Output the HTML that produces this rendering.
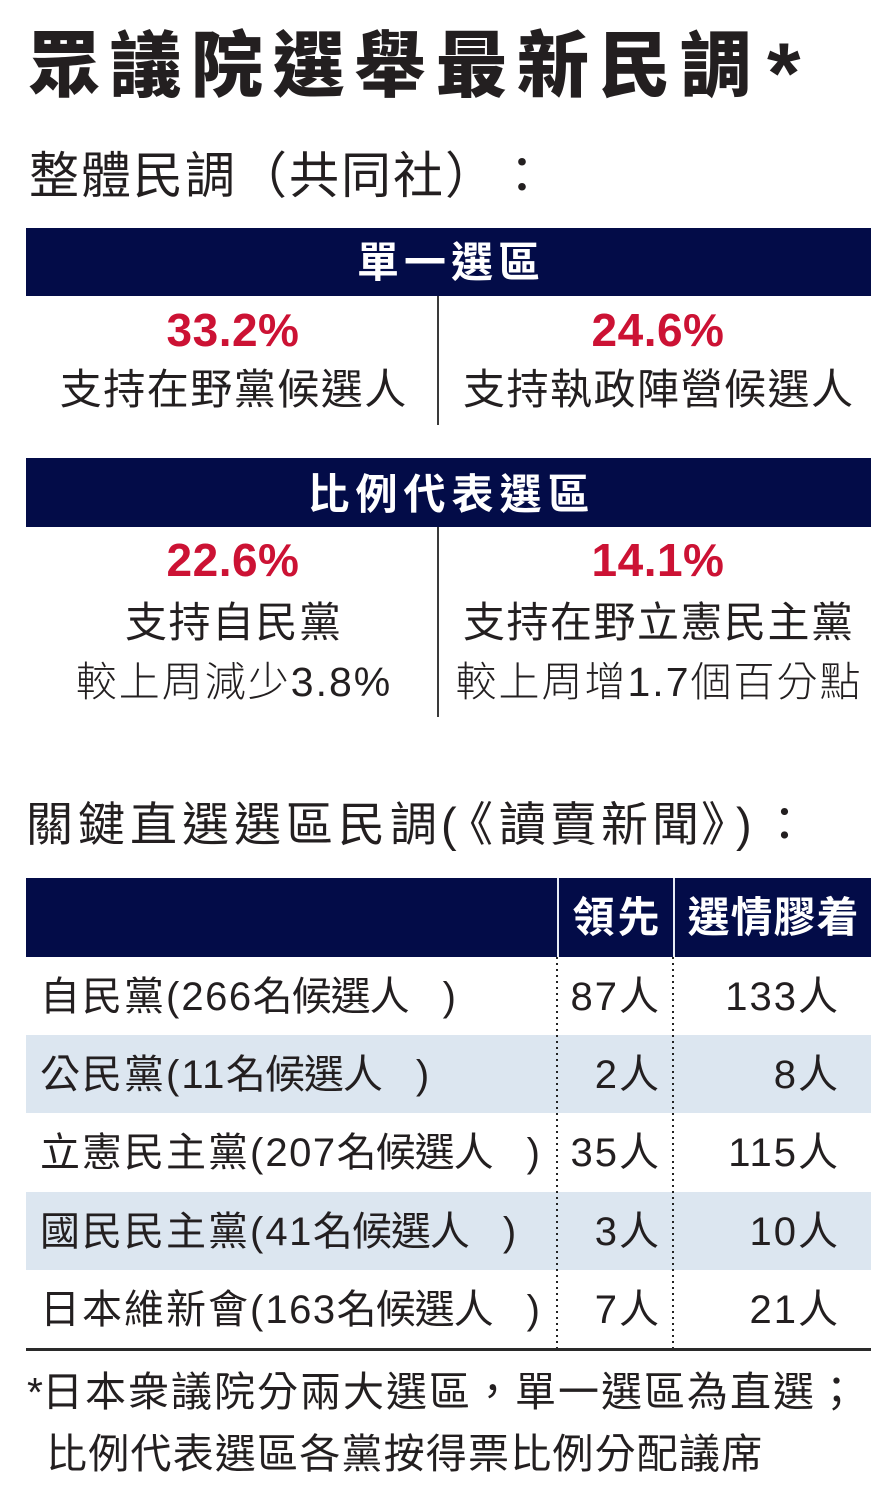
<!DOCTYPE html>
<html><head><meta charset="utf-8"><style>
*{margin:0;padding:0;box-sizing:border-box}
html,body{width:889px;height:1500px;background:#fff;overflow:hidden}
body{position:relative;font-family:"Liberation Sans","Noto Sans CJK TC",sans-serif;color:#231f20;text-spacing-trim:space-all}
.a{position:absolute;line-height:1;white-space:nowrap;text-spacing-trim:space-all}
.bar{position:absolute;left:26px;width:845px;background:#030c48}
.w{color:#fff;font-weight:700;text-align:center;width:845px;left:26px;font-size:42px}
.pct{color:#cc1234;font-weight:700;font-size:46px;letter-spacing:0.5px}
.L{left:26px;width:414px;text-align:center}
.R{left:445px;width:426px;text-align:center}
.sup{font-size:42px;letter-spacing:1.5px;padding-left:1.5px}
.sub{font-size:41px;font-weight:300;letter-spacing:2px;padding-left:2px}
.vl{position:absolute;left:437px;width:2px;background:#3a3a3a}
.row{position:absolute;left:26px;width:845px}
.blue{background:#dce6f0}
.lab{font-size:40px;left:40px;letter-spacing:2px}
.lab .d{letter-spacing:1.5px}
.lab .t{letter-spacing:-1px}
.lab .p{margin-left:34px;letter-spacing:0}
.n{font-size:40px;text-align:right}
.n .d{letter-spacing:2px}
.c2{left:560px;width:99px}
.c3{left:676px;width:162px}
.dot{position:absolute;width:2px;top:957px;height:391px;background:repeating-linear-gradient(to bottom,#222 0 2px,transparent 2px 6px)}
.hd{position:absolute;top:878px;width:2px;height:79px;background:#e8ecf4}
.h2{font-size:47px;top:801px}
</style></head><body>

<div class="a" style="left:28px;top:31px;font-size:72px;font-weight:900;letter-spacing:9.5px">眾議院選舉最新民調</div>
<div class="a" style="left:767px;top:31px;font-size:86px;font-weight:700">*</div>

<div class="a" style="left:29px;top:151px;font-size:50px;letter-spacing:2px">整體民調（共同社）：</div>

<div class="bar" style="top:228px;height:68px"></div>
<div class="a w" style="top:242px;letter-spacing:5px;padding-left:5px">單一選區</div>

<div class="vl" style="top:296px;height:129px"></div>
<div class="a pct L" style="top:307px">33.2%</div>
<div class="a pct R" style="top:307px">24.6%</div>
<div class="a sup L" style="top:369px">支持在野黨候選人</div>
<div class="a sup R" style="top:369px">支持執政陣營候選人</div>

<div class="bar" style="top:458px;height:69px"></div>
<div class="a w" style="top:474px;letter-spacing:6px;padding-left:6px">比例代表選區</div>

<div class="vl" style="top:527px;height:190px"></div>
<div class="a pct L" style="top:537px">22.6%</div>
<div class="a pct R" style="top:537px">14.1%</div>
<div class="a sup L" style="top:602px">支持自民黨</div>
<div class="a sup R" style="top:602px">支持在野立憲民主黨</div>
<div class="a sub L" style="top:662px">較上周減少3.8%</div>
<div class="a sub R" style="top:662px">較上周增1.7個百分點</div>

<div class="a h2" style="left:26px;letter-spacing:5px">關鍵直選選區民調</div>
<div class="a h2" style="left:441px">(</div>
<div class="a h2" style="left:446px">《</div>
<div class="a h2" style="left:499px;letter-spacing:4px">讀賣新聞</div>
<div class="a h2" style="left:701px">》</div>
<div class="a h2" style="left:736px">)</div>
<div class="a h2" style="left:761px">：</div>

<!-- table -->
<div class="bar" style="top:878px;height:79px"></div>
<div class="hd" style="left:557px"></div>
<div class="hd" style="left:673px"></div>
<div class="a" style="left:559px;width:114px;text-align:center;top:897px;font-size:42px;font-weight:700;color:#fff;letter-spacing:3px;padding-left:3px">領先</div>
<div class="a" style="left:675px;width:196px;text-align:center;top:897px;font-size:42px;font-weight:700;color:#fff;letter-spacing:1px;padding-left:1px">選情膠着</div>

<div class="row blue" style="top:1035px;height:78px"></div>
<div class="row blue" style="top:1192px;height:78px"></div>

<div class="dot" style="left:556px"></div>
<div class="dot" style="left:672px"></div>

<div class="a lab" style="top:977px">自民黨(<span class="d">266</span><span class="t">名候選人</span><span class="p">)</span></div>
<div class="a n c2" style="top:977px"><span class="d">87</span>人</div>
<div class="a n c3" style="top:977px"><span class="d">133</span>人</div>

<div class="a lab" style="top:1055px">公民黨(<span class="d">11</span><span class="t">名候選人</span><span class="p">)</span></div>
<div class="a n c2" style="top:1055px"><span class="d">2</span>人</div>
<div class="a n c3" style="top:1055px"><span class="d">8</span>人</div>

<div class="a lab" style="top:1133px">立憲民主黨(<span class="d">207</span><span class="t">名候選人</span><span class="p">)</span></div>
<div class="a n c2" style="top:1133px"><span class="d">35</span>人</div>
<div class="a n c3" style="top:1133px"><span class="d">115</span>人</div>

<div class="a lab" style="top:1212px">國民民主黨(<span class="d">41</span><span class="t">名候選人</span><span class="p">)</span></div>
<div class="a n c2" style="top:1212px"><span class="d">3</span>人</div>
<div class="a n c3" style="top:1212px"><span class="d">10</span>人</div>

<div class="a lab" style="top:1290px">日本維新會(<span class="d">163</span><span class="t">名候選人</span><span class="p">)</span></div>
<div class="a n c2" style="top:1290px"><span class="d">7</span>人</div>
<div class="a n c3" style="top:1290px"><span class="d">21</span>人</div>

<div style="position:absolute;left:26px;top:1348px;width:845px;height:3px;background:#2a2a2a"></div>

<div class="a" style="left:27px;top:1372px;font-size:41px;letter-spacing:2px"><span style="letter-spacing:-1px">*</span>日本衆議院分兩大選區，單一選區為直選；</div>
<div class="a" style="left:46px;top:1434px;font-size:41px;letter-spacing:1.2px">比例代表選區各黨按得票比例分配議席</div>

</body></html>
